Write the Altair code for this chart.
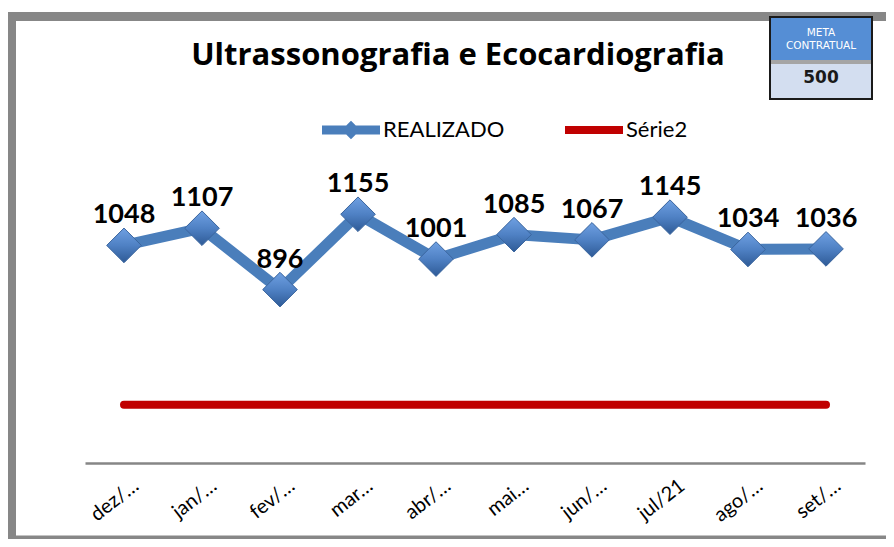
import altair as alt
import pandas as pd

# ---- data ----
months = ["dez/…", "jan/…", "fev/…", "mar…", "abr/…", "mai…", "jun/…", "jul/21", "ago/…", "set/…"]
realizado = [1048, 1107, 896, 1155, 1001, 1085, 1067, 1145, 1034, 1036]
meta_value = 500
series_names = ["REALIZADO", "Série2"]
meta_lines = ["META", "CONTRATUAL"]
title_text = ["Ultrassonografia e Ecocardiografia"]

rows = []
for m, v in zip(months, realizado):
    rows.append({"mes": m, "serie": series_names[0], "valor": v})
for m in months:
    rows.append({"mes": m, "serie": series_names[1], "valor": meta_value})
df = pd.DataFrame(rows)

W, H = 780, 320
FONT = "Lato"
BLUE = "#4A7EBB"
RED = "#C00000"

x_enc = alt.X(
    "mes:N",
    sort=months,
    scale=alt.Scale(padding=0.5),
    axis=alt.Axis(
        title=None, labelAngle=322, labelAlign="right", labelBaseline="middle",
        labelFont=FONT, labelFontSize=20, labelColor="black", labelPadding=20,
        labelOffset=12, ticks=False, domainColor="#868686", domainWidth=2.5,
        grid=False,
    ),
)
y_enc = alt.Y("valor:Q", scale=alt.Scale(domain=[300, 1400]), axis=None)

base = alt.Chart(df).encode(x=x_enc, y=y_enc)

color_scale = alt.Scale(domain=series_names, range=[BLUE, RED])

lines = base.mark_line(strokeCap="round", strokeJoin="round").encode(
    color=alt.Color("serie:N", scale=color_scale, legend=None),
    strokeWidth=alt.StrokeWidth("serie:N", scale=alt.Scale(domain=series_names, range=[11, 8]), legend=None),
)

grad = alt.LinearGradient(
    gradient="linear",
    stops=[alt.GradientStop(offset=0, color="#6FA0E2"),
           alt.GradientStop(offset=0.5, color="#4F81C4"),
           alt.GradientStop(offset=1, color="#2E5A96")],
    x1=0, x2=0, y1=0, y2=1,
)
points = base.transform_filter(alt.datum.serie == series_names[0]).mark_point(
    shape="diamond", filled=True, size=1200, fill=grad, stroke="#3A659E", strokeWidth=1, opacity=1
)

labels = base.transform_filter(alt.datum.serie == series_names[0]).mark_text(
    dy=-22, baseline="alphabetic", font=FONT, fontSize=27, fontWeight="bold", color="black"
).encode(text="valor:Q")

legend_spec = alt.Legend(
    orient="none", legendX=237, legendY=-42, direction="horizontal", title=None,
    labelFont=FONT, labelFontSize=22, labelColor="black", symbolSize=3364,
    symbolStrokeWidth=0, symbolOpacity=1, columnPadding=60, labelOffset=3, padding=0,
)
path_blue = "M-1,-0.155L1,-0.155L1,0.155L-1,0.155Z M-0.32,0L0,-0.32L0.32,0L0,0.32Z"
path_red = "M-1,-0.14L1,-0.14L1,0.14L-1,0.14Z"
legend_layer = base.mark_point(filled=True, opacity=0).encode(
    color=alt.Color("serie:N", scale=color_scale, legend=legend_spec),
    shape=alt.Shape("serie:N", scale=alt.Scale(domain=series_names, range=[path_blue, path_red]), legend=legend_spec),
)

one = pd.DataFrame({"k": [0]})
frame = alt.Chart(one).mark_rect(fillOpacity=0, stroke="#878787", strokeWidth=9).encode(
    x=alt.value(-73.5), x2=alt.value(830), y=alt.value(-126.5), y2=alt.value(397)
)

title = alt.Chart(pd.DataFrame({"t": title_text})).mark_text(
    font="Open Sans", fontSize=31, fontWeight="bold", color="black", baseline="alphabetic", align="center"
).encode(x=alt.value(373), y=alt.value(-78), text="t:N")

box_top = alt.Chart(one).mark_rect(fill="#558ED5").encode(
    x=alt.value(685), x2=alt.value(787), y=alt.value(-126), y2=alt.value(-83))
box_mid = alt.Chart(one).mark_rect(fill="#A5A5A5").encode(
    x=alt.value(685), x2=alt.value(787), y=alt.value(-83), y2=alt.value(-79))
box_bot = alt.Chart(one).mark_rect(fill="#D3DEF0").encode(
    x=alt.value(685), x2=alt.value(787), y=alt.value(-79), y2=alt.value(-44))
box_border = alt.Chart(one).mark_rect(fillOpacity=0, stroke="#1A1A1A", strokeWidth=2).encode(
    x=alt.value(685), x2=alt.value(787), y=alt.value(-126), y2=alt.value(-44))

meta_df = pd.DataFrame({"t": meta_lines, "i": [0, 1]})
meta_txt = alt.Chart(meta_df).mark_text(
    font="DejaVu Sans", fontSize=10.5, color="white", baseline="middle", align="center"
).encode(
    x=alt.value(736),
    y=alt.Y("i:Q", scale=alt.Scale(domain=[0, 1], range=[-110, -97]), axis=None),
    text="t:N",
)
meta_val = alt.Chart(pd.DataFrame({"v": [meta_value]})).mark_text(
    font="DejaVu Sans", fontSize=17, fontWeight="bold", color="#1A1A1A", baseline="middle", align="center"
).encode(x=alt.value(736), y=alt.value(-65), text="v:Q")

chart = alt.layer(
    frame, title, lines, points, labels, legend_layer,
    box_top, box_mid, box_bot, box_border, meta_txt, meta_val,
).resolve_scale(y="independent", color="independent", shape="independent").properties(
    width=W, height=H,
    padding={"left": 77, "top": 135, "right": 21, "bottom": 76},
    autosize=alt.AutoSizeParams(type="none"),
    background="white",
).configure_view(stroke=None)

chart.save("out.html", embed_options={"renderer": "svg", "actions": False})
